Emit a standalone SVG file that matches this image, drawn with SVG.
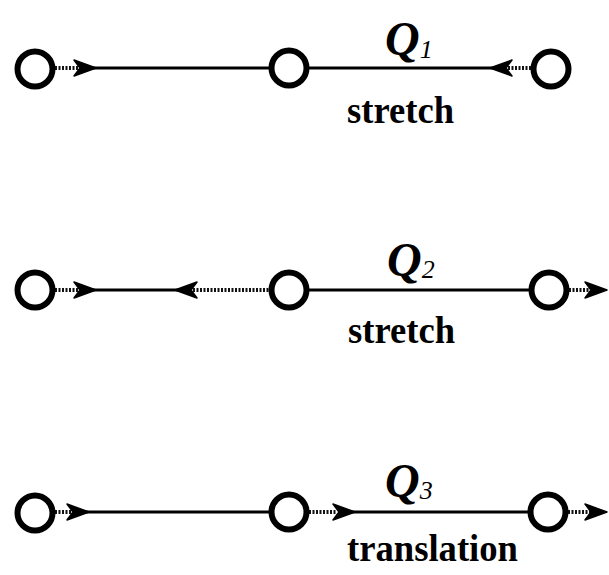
<svg xmlns="http://www.w3.org/2000/svg" width="609" height="575" viewBox="0 0 609 575">
<style>
.node{fill:none;stroke:#000;stroke-width:6}
.ln{stroke:#000;stroke-width:3;fill:none}
.dl{stroke:#111;stroke-width:4;stroke-dasharray:2 1.5;fill:none}
.q{font-family:"Liberation Serif",serif;font-style:italic;font-weight:bold;font-size:48px}
.sub{font-family:"Liberation Serif",serif;font-style:italic;font-weight:normal;font-size:26px}
.lab{font-family:"Liberation Serif",serif;font-weight:bold;font-size:37px}
</style>
<defs>
<path id="ah" d="M0,0 L-22,-8 L-16,0 L-22,8 Z" fill="#000" stroke="#000" stroke-width="1.5" stroke-linejoin="round"/>
</defs>
<rect width="609" height="575" fill="#fff"/>
<g id="connectors">
<line class="dl" x1="55" y1="68" x2="78" y2="68"/>
<use href="#ah" transform="translate(96,68)"/>
<line class="ln" x1="90" y1="68" x2="269" y2="68"/>
<line class="ln" x1="309" y1="68" x2="495" y2="68"/>
<use href="#ah" transform="translate(490,68) scale(-1,1)"/>
<line class="dl" x1="508" y1="68" x2="531" y2="68"/>
<line class="dl" x1="55" y1="290" x2="78" y2="290"/>
<use href="#ah" transform="translate(96,290)"/>
<line class="ln" x1="90" y1="290" x2="180" y2="290"/>
<use href="#ah" transform="translate(175,290) scale(-1,1)"/>
<line class="dl" x1="193" y1="290" x2="269" y2="290"/>
<line class="ln" x1="309" y1="290" x2="529" y2="290"/>
<line class="dl" x1="569" y1="290" x2="590" y2="290"/>
<use href="#ah" transform="translate(607,290)"/>
<line class="dl" x1="55" y1="512" x2="72" y2="512"/>
<use href="#ah" transform="translate(89,512)"/>
<line class="ln" x1="84" y1="512" x2="269" y2="512"/>
<line class="dl" x1="309" y1="512" x2="337" y2="512"/>
<use href="#ah" transform="translate(355,512)"/>
<line class="ln" x1="350" y1="512" x2="528" y2="512"/>
<line class="dl" x1="568" y1="512" x2="590" y2="512"/>
<use href="#ah" transform="translate(607,512)"/>
</g>
<g id="n1a"><circle class="node" cx="35" cy="69" r="17.5"/></g>
<g id="n1b"><circle class="node" cx="289" cy="68" r="17.5"/></g>
<g id="n1c"><circle class="node" cx="551" cy="69" r="17.5"/></g>
<g id="n2a"><circle class="node" cx="35" cy="290" r="17.5"/></g>
<g id="n2b"><circle class="node" cx="289" cy="290" r="17.5"/></g>
<g id="n2c"><circle class="node" cx="549" cy="290" r="17.5"/></g>
<g id="n3a"><circle class="node" cx="35" cy="513" r="17.5"/></g>
<g id="n3b"><circle class="node" cx="289" cy="512" r="17.5"/></g>
<g id="n3c"><circle class="node" cx="548" cy="512" r="17.5"/></g>
<g id="labels">
<text class="q" x="385" y="55">Q<tspan class="sub" dy="3">1</tspan></text>
<text class="lab" x="347" y="123" textLength="107" lengthAdjust="spacingAndGlyphs">stretch</text>
<text class="q" x="387" y="276">Q<tspan class="sub" dy="2">2</tspan></text>
<text class="lab" x="348" y="343" textLength="107" lengthAdjust="spacingAndGlyphs">stretch</text>
<text class="q" x="385" y="497">Q<tspan class="sub" dy="2">3</tspan></text>
<text class="lab" x="347" y="561" textLength="171" lengthAdjust="spacingAndGlyphs">translation</text>
</g>
</svg>
